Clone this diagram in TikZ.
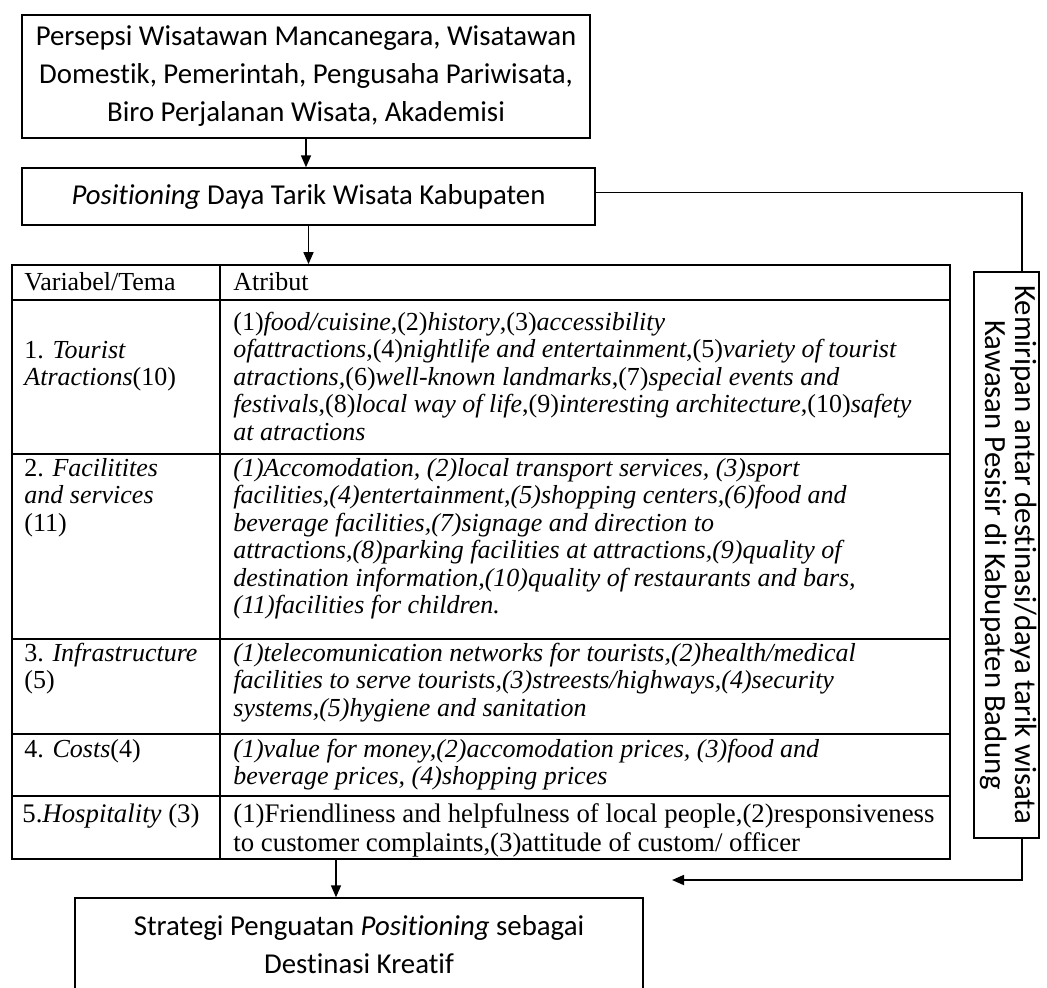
\documentclass[tikz,border=0pt]{standalone}
\usepackage{fontspec}
\setmainfont{Liberation Serif}
\newfontfamily\calibri[Ligatures=CommonOff]{Carlito}
\usetikzlibrary{arrows.meta}

\begin{document}
\begin{tikzpicture}[x=0.5pt,y=-0.5pt,
>={Triangle[length=6pt,width=5pt]},
kotak/.style={draw,line width=0.7pt,align=center,inner sep=2pt,font=\calibri\fontsize{14.4}{19}\selectfont},
sisi/.style={kotak,line width=0.6pt,inner sep=0pt,font=\calibri\fontsize{15.4}{15}\selectfont},
garis/.style={line width=0.8pt},
sel/.style={anchor=north west,inner sep=0pt,align=left,font=\fontsize{13}{13.75}\selectfont},
selmiring/.style={sel,font=\fontsize{13}{13.75}\selectfont\itshape},
selakhir/.style={sel,font=\fontsize{13.4}{14.5}\selectfont}]

\useasboundingbox (0,0) rectangle (1047,987);
\clip (0,0) rectangle (1047,987);

\node[kotak,minimum width=284pt,minimum height=61.5pt] (persepsi) at (306,76.5)
  {Persepsi Wisatawan Mancanegara, Wisatawan\\Domestik, Pemerintah, Pengusaha Pariwisata,\\Biro Perjalanan Wisata, Akademisi};
\node[kotak,minimum width=286.5pt,minimum height=28.5pt] (posisi) at (308.5,196.5)
  {\textit{Positioning} Daya Tarik Wisata Kabupaten};

\node[draw,line width=0.9pt,minimum width=469pt,minimum height=297pt,inner sep=0pt] (tabel) at (481,562) {};
\foreach \y in {300,454,639,734,796}
  \draw[garis] (tabel.west |- 0,\y) -- (tabel.east |- 0,\y);
\draw[garis] (tabel.north -| 220,0) -- (tabel.south -| 220,0);

\node[sel] (v0) at (24,270.75) {\strut Variabel/Tema};
\node[sel] (a0) at (233,270.75) {\strut Atribut};

\node[sel] (v1) at (24,338.75) {\strut 1. \textit{Tourist}\\\textit{Atractions}(10)};
\node[sel] (a1) at (233,310.75) {\strut (1)\textit{food/cuisine},(2)\textit{history},(3)\textit{accessibility}\\
  \textit{ofattractions},(4)\textit{nightlife and entertainment},(5)\textit{variety of tourist}\\
  \textit{atractions,}(6)\textit{well-known landmarks},(7)\textit{special events and}\\
  \textit{festivals},(8)\textit{local way of life},(9)\textit{interesting architecture},(10)\textit{safety}\\
  \textit{at atractions}};

\node[sel] (v2) at (24,456.75) {\strut 2. \textit{Facilitites}\\\textit{and services}\\(11)};
\node[selmiring] (a2) at (233,456.75)
  {\strut (1)Accomodation, (2)local transport services, (3)sport\\
  facilities,(4)entertainment,(5)shopping centers,(6)food and\\
  beverage facilities,(7)signage and direction to\\
  attractions,(8)parking facilities at attractions,(9)quality of\\
  destination information,(10)quality of restaurants and bars,\\
  (11)facilities for children.};

\node[sel] (v3) at (24,641.75) {\strut 3. \textit{Infrastructure}\\(5)};
\node[selmiring] (a3) at (233,641.75)
  {\strut (1)telecomunication networks for tourists,(2)health/medical\\
  facilities to serve tourists,(3)streests/highways,(4)security\\
  systems,(5)hygiene and sanitation};

\node[sel] (v4) at (24,737.75) {\strut 4. \textit{Costs}(4)};
\node[selmiring] (a4) at (233,737.75)
  {\strut (1)value for money,(2)accomodation prices, (3)food and\\
  beverage prices, (4)shopping prices};

\node[selakhir] (v5) at (22,801.7) {\strut 5.\textit{Hospitality} (3)};
\node[selakhir] (a5) at (233,801.7)
  {\strut (1)Friendliness and helpfulness of local people,(2)responsiveness\\
  to customer complaints,(3)attitude of custom/ officer};

\node[sisi,minimum width=32.5pt,minimum height=283pt] (mirip) at (1006.5,555)
  {\rotatebox{-90}{\begin{tabular}{@{}c@{}}Kemiripan antar destinasi/daya tarik wisata\\Kawasan Pesisir di Kabupaten Badung\end{tabular}}};

\node[kotak,minimum width=284pt,minimum height=47pt] (strategi) at (359,945)
  {Strategi Penguatan \textit{Positioning} sebagai\\Destinasi Kreatif};

\draw[garis,->] (persepsi.south) -- (persepsi.south |- posisi.north);
\draw[garis,->] (posisi.south) -- (posisi.south |- tabel.north);
\draw[garis] ([yshift=2pt]posisi.east) -| ([xshift=7.75pt]mirip.north);

\coordinate (ujung) at (672,880);
\draw[garis,->] ([xshift=7.75pt]mirip.south) |- (ujung);
\coordinate (masuk) at ([xshift=-11.5pt]strategi.north);
\draw[garis,->] (masuk |- tabel.south) -- (masuk);

\end{tikzpicture}
\end{document}
